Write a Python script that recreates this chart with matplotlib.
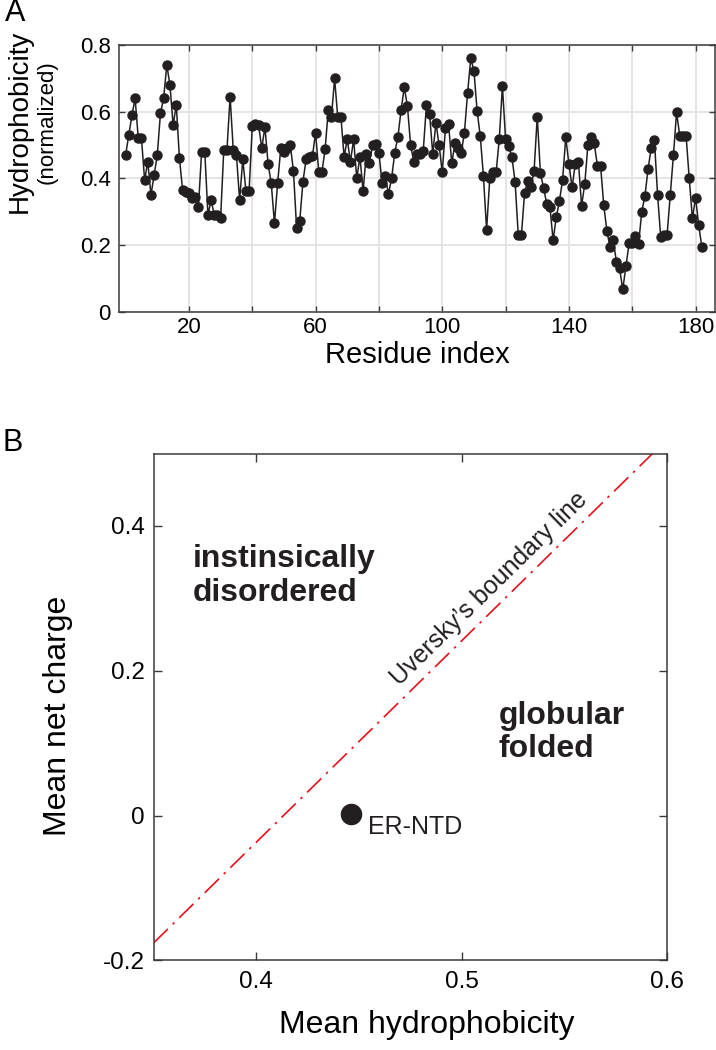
import numpy as np
import matplotlib
matplotlib.use("Agg")
import matplotlib.pyplot as plt

plt.rcParams["font.family"] = ["Liberation Sans", "DejaVu Sans"]

# Panel A: hydrophobicity per residue (normalized)
hydro = [
    0.47, 0.53, 0.59, 0.64, 0.52, 0.52, 0.395, 0.45, 0.35, 0.41,
    0.47, 0.595, 0.64, 0.74, 0.68, 0.56, 0.62, 0.46, 0.365, 0.36,
    0.355, 0.34, 0.345, 0.315, 0.48, 0.48, 0.29, 0.335, 0.29, 0.29,
    0.28, 0.485, 0.485, 0.645, 0.485, 0.47, 0.335, 0.457, 0.363, 0.363,
    0.557, 0.563, 0.56, 0.49, 0.555, 0.443, 0.385, 0.265, 0.385, 0.49,
    0.48, 0.49, 0.50, 0.423, 0.251, 0.273, 0.39, 0.457, 0.465, 0.467,
    0.537, 0.419, 0.419, 0.487, 0.605, 0.583, 0.70, 0.583, 0.583, 0.465,
    0.517, 0.45, 0.517, 0.40, 0.465, 0.362, 0.473, 0.447, 0.50, 0.503,
    0.477, 0.385, 0.407, 0.353, 0.40, 0.477, 0.525, 0.605, 0.673, 0.617,
    0.50, 0.45, 0.473, 0.473, 0.483, 0.62, 0.593, 0.473, 0.567, 0.50,
    0.418, 0.55, 0.563, 0.445, 0.505, 0.49, 0.477, 0.537, 0.657, 0.76,
    0.723, 0.603, 0.527, 0.407, 0.245, 0.40, 0.418, 0.418, 0.517, 0.677,
    0.517, 0.497, 0.463, 0.39, 0.23, 0.23, 0.357, 0.393, 0.373, 0.423,
    0.585, 0.415, 0.372, 0.323, 0.315, 0.215, 0.283, 0.332, 0.395, 0.523,
    0.443, 0.373, 0.443, 0.45, 0.318, 0.383, 0.50, 0.523, 0.505, 0.438,
    0.438, 0.32, 0.242, 0.193, 0.215, 0.15, 0.13, 0.067, 0.137, 0.205,
    0.205, 0.227, 0.202, 0.30, 0.347, 0.428, 0.492, 0.515, 0.351, 0.223,
    0.23, 0.23, 0.351, 0.469, 0.598, 0.528, 0.528, 0.528, 0.40, 0.28,
    0.342, 0.259, 0.193,
]
residue = np.arange(len(hydro))
a_xticks = [20, 40, 60, 80, 100, 120, 140, 160, 180]
a_xticklabels = ["20", "", "60", "", "100", "", "140", "", "180"]
a_yticks = [0, 0.2, 0.4, 0.6, 0.8]
a_yticklabels = ["0", "0.2", "0.4", "0.6", "0.8"]

# Panel B: charge-hydropathy plot
boundary_h = [0.35, 0.5928]
boundary_r = [-0.176, 0.5]
er_ntd_h = [0.446]
er_ntd_r = [0.002]
b_xticks = [0.4, 0.5, 0.6]
b_xticklabels = ["0.4", "0.5", "0.6"]
b_yticks = [-0.2, 0, 0.2, 0.4]
b_yticklabels = ["-0.2", "0", "0.2", "0.4"]

dark = "#231f20"
spine_col = "#3a3a3a"

fig = plt.figure(figsize=(7.16, 10.5), dpi=100)

# ---------- panel A ----------
axA = fig.add_axes([0.1666, 0.7031, 0.8314, 0.254])
axA.plot(residue, hydro, "-o", color=dark, lw=1.1, ms=6.5, mfc=dark, mec=dark, zorder=3)
axA.set_xlim(-2, 186)
axA.set_ylim(0, 0.8)
axA.set_xticks(a_xticks)
axA.set_xticklabels(a_xticklabels)
axA.set_yticks(a_yticks)
axA.set_yticklabels(a_yticklabels)
axA.grid(True, color="#e3e3e3", lw=1.3, zorder=0)
axA.tick_params(direction="in", top=True, right=True, length=4.5, width=1,
                labelsize=16, colors=spine_col, labelcolor="black")
axA.tick_params(axis="x", pad=4)
axA.tick_params(axis="y", pad=6)
for s in axA.spines.values():
    s.set_color(spine_col)
    s.set_linewidth(1.1)
axA.set_xlabel("Residue index", fontsize=21)
axA.xaxis.set_label_coords(0.5, -0.11)
axA.text(-0.1666, 0.712, "Hydrophobicity", transform=axA.transAxes, rotation=90,
         ha="center", va="center", fontsize=20)
axA.text(-0.1213, 0.712, "(normalized)", transform=axA.transAxes, rotation=90,
         ha="center", va="center", fontsize=16)

# ---------- panel B ----------
axB = fig.add_axes([0.2145, 0.0854, 0.7175, 0.4826])
axB.plot(boundary_h, boundary_r, color="#e8101a", lw=1.2,
         linestyle=(0, (12, 4, 1.5, 4)))
axB.plot(er_ntd_h, er_ntd_r, "o", color=dark, ms=14.5)
axB.set_xlim(0.35, 0.6)
axB.set_ylim(-0.2, 0.5)
axB.set_xticks(b_xticks)
axB.set_xticklabels(b_xticklabels)
axB.set_yticks(b_yticks)
axB.set_yticklabels(b_yticklabels)
axB.tick_params(direction="in", top=True, right=True, length=5.5, width=1,
                labelsize=17.5, colors=spine_col, labelcolor="black")
axB.tick_params(axis="x", pad=8)
axB.tick_params(axis="y", pad=6.5)
for s in axB.spines.values():
    s.set_color(spine_col)
    s.set_linewidth(1.1)
axB.set_xlabel("Mean hydrophobicity", fontsize=23)
axB.xaxis.set_label_coords(0.5314, -0.098)
axB.set_ylabel("Mean net charge", fontsize=23)
axB.yaxis.set_label_coords(-0.1575, 0.482)

# angle of the boundary line on screen, for the rotated caption
p0, p1 = axB.transData.transform(np.column_stack([boundary_h, boundary_r]))
line_angle = np.degrees(np.arctan2(p1[1] - p0[1], p1[0] - p0[0]))

axB.text(0.4543, -0.0163, "ER-NTD", fontsize=18, ha="left", va="center", color=dark)
axB.text(0.5134, 0.3138, "Uversky\u2019s boundary line", fontsize=18, rotation=line_angle,
         rotation_mode="anchor", ha="center", va="center", color=dark)
axB.text(0.3689, 0.3308, "instinsically\ndisordered", fontsize=23, fontweight="bold",
         ha="left", va="center", color=dark, linespacing=1.15)
axB.text(0.5179, 0.1147, "globular\nfolded", fontsize=23, fontweight="bold",
         ha="left", va="center", color=dark, linespacing=1.15)

# panel letters
fig.text(0.021, 0.9875, "A", fontsize=22, ha="center", va="center")
fig.text(0.0175, 0.578, "B", fontsize=22, ha="center", va="center")

fig.savefig("out.png", dpi=100)
